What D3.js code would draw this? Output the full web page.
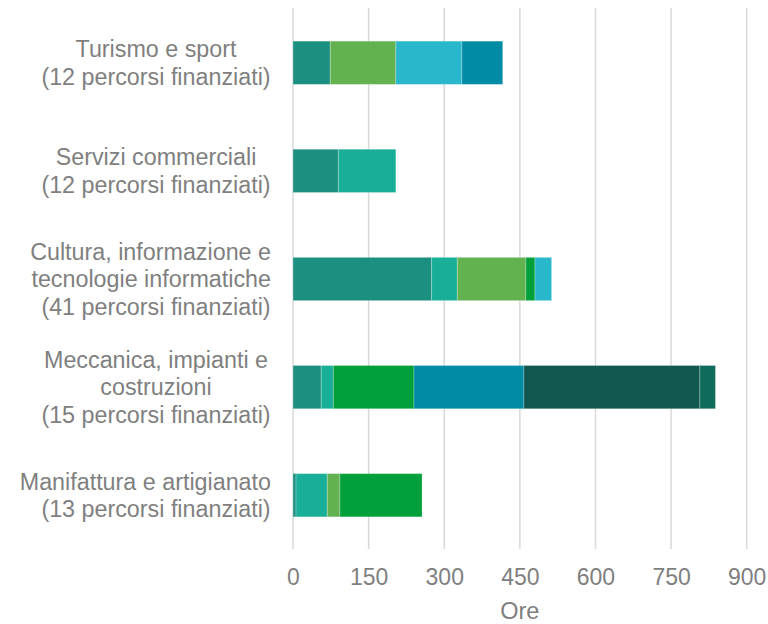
<!DOCTYPE html>
<html>
<head>
<meta charset="utf-8">
<script src="https://cdn.jsdelivr.net/npm/d3@7"></script>
<style>
  html, body { margin: 0; padding: 0; background: #fff; }
  svg { display: block; font-family: "Liberation Sans", Arial, sans-serif; }
</style>
</head>
<body>
<div id="chart"></div>
<script>
// Categories, top to bottom (each entry = lines of the label)
const categories = [
  ['Turismo e sport', '(12 percorsi finanziati)'],
  ['Servizi commerciali', '(12 percorsi finanziati)'],
  ['Cultura, informazione e', 'tecnologie informatiche', '(41 percorsi finanziati)'],
  ['Meccanica, impianti e', 'costruzioni', '(15 percorsi finanziati)'],
  ['Manifattura e artigianato', '(13 percorsi finanziati)']
];

// Hours per series, same order as categories
const serieA = [74, 90, 275, 56, 6];
const serieB = [0, 114, 51, 24, 62];
const serieC = [130, 0, 136, 0, 25];
const serieD = [0, 0, 18, 160, 163];
const serieE = [131, 0, 33, 0, 0];
const serieF = [81, 0, 0, 218, 0];
const serieG = [0, 0, 0, 349, 0];
const serieH = [0, 0, 0, 31, 0];

const seriesNames = ['A', 'B', 'C', 'D', 'E', 'F', 'G', 'H'];
const seriesValues = [serieA, serieB, serieC, serieD, serieE, serieF, serieG, serieH];
const seriesColors = ['#1b9080', '#18ae97', '#62b24f', '#02a03a', '#29b7cc', '#018ca6', '#10584f', '#0f6b5b'];

const xTicks = [0, 150, 300, 450, 600, 750, 900];
const xTitle = 'Ore';

const W = 768, H = 624;
const plotLeft = 293, plotRight = 746.7;
const plotTop = 8.7, plotBottom = 549.3;

const rows = categories.map((c, i) => {
  const r = { key: i };
  seriesNames.forEach((s, j) => { r[s] = seriesValues[j][i]; });
  return r;
});

const xScale = d3.scaleLinear().domain([0, 900]).range([plotLeft, plotRight]);
const yScale = d3.scaleBand().domain(d3.range(categories.length))
  .range([plotTop, plotBottom]).paddingInner(0.6).paddingOuter(0.3);
const color = d3.scaleOrdinal().domain(seriesNames).range(seriesColors);

const svg = d3.select('#chart').append('svg')
  .attr('width', W).attr('height', H)
  .attr('viewBox', `0 0 ${W} ${H}`);

// Grid lines
svg.append('g').selectAll('line').data(xTicks).join('line')
  .attr('x1', d => xScale(d)).attr('x2', d => xScale(d))
  .attr('y1', 8).attr('y2', 549)
  .attr('stroke', '#d9d9d9').attr('stroke-width', 1.5);

// Stacked bars
const stacked = d3.stack().keys(seriesNames)(rows);
svg.append('g').selectAll('g').data(stacked).join('g')
  .attr('fill', d => color(d.key))
  .selectAll('rect').data(d => d.filter(p => p[1] > p[0])).join('rect')
  .attr('x', d => xScale(d[0]))
  .attr('y', d => yScale(d.data.key))
  .attr('width', d => xScale(d[1]) - xScale(d[0]))
  .attr('height', yScale.bandwidth())
  .attr('stroke', '#ffffff').attr('stroke-opacity', 0.25).attr('stroke-width', 1);

// X axis
const xAxisG = svg.append('g').attr('transform', `translate(0,${plotBottom})`)
  .call(d3.axisBottom(xScale).tickValues(xTicks).tickSize(0).tickPadding(19));
xAxisG.select('.domain').remove();
xAxisG.selectAll('text')
  .attr('fill', '#7f7f7f').attr('font-size', 23)
  .attr('font-family', '"Liberation Sans", Arial, sans-serif');

svg.append('text')
  .attr('x', (plotLeft + plotRight) / 2).attr('y', 619)
  .attr('text-anchor', 'middle')
  .attr('fill', '#7f7f7f').attr('font-size', 23.5)
  .text(xTitle);

// Category labels
const lineH = 27.5;
const labelG = svg.append('g');
categories.forEach((lines, i) => {
  const cy = yScale(i) + yScale.bandwidth() / 2;
  lines.forEach((ln, k) => {
    const t = labelG.append('text')
      .attr('y', cy + (k - (lines.length - 1) / 2) * lineH)
      .attr('dy', '0.35em')
      .attr('text-anchor', 'middle')
      .attr('fill', '#7f7f7f').attr('font-size', 23.3)
      .text(ln);
    const w = t.node().getComputedTextLength();
    t.attr('x', Math.min(156, 271 - w / 2));
  });
});
</script>
</body>
</html>
